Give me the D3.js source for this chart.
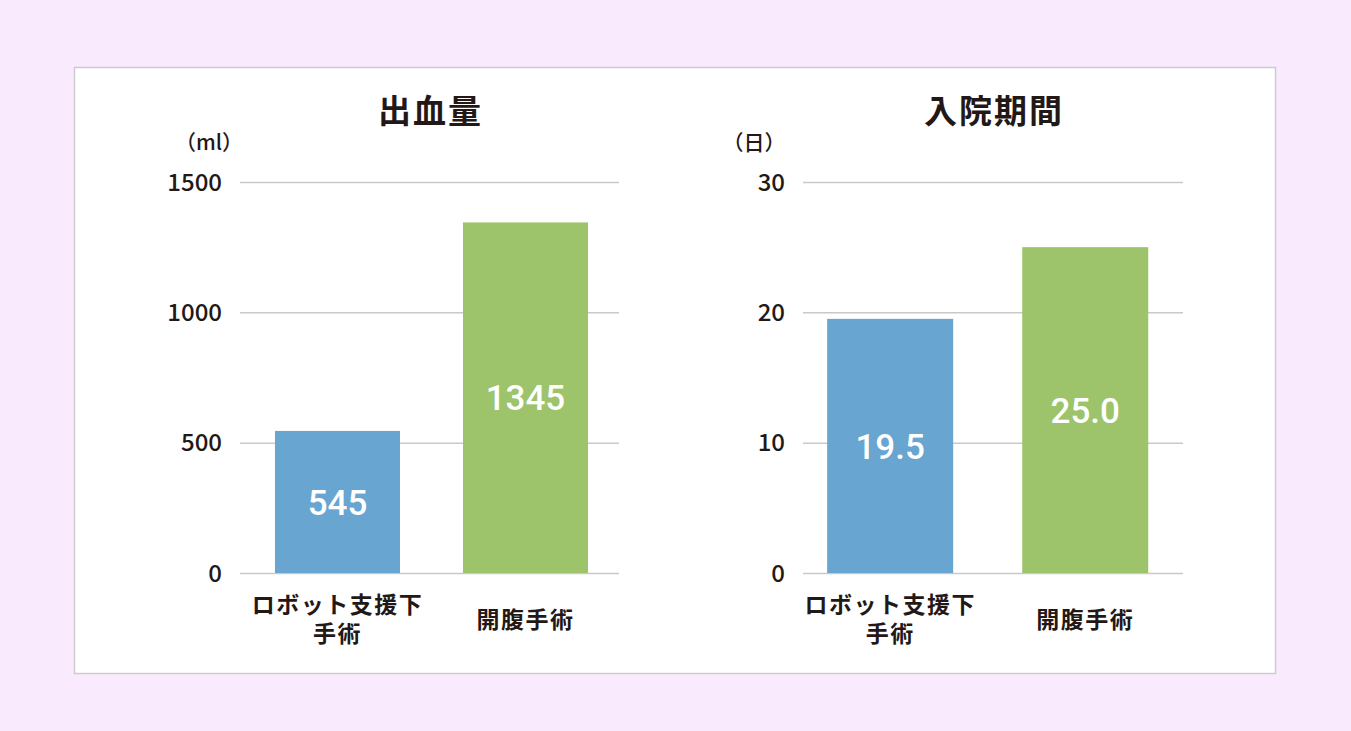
<!DOCTYPE html>
<html>
<head>
<meta charset="utf-8">
<script src="https://cdn.jsdelivr.net/npm/d3@7"></script>
<style>
  html, body { margin: 0; padding: 0; background: #f9ebfd; }
  svg { display: block; }
</style>
</head>
<body>
<div id="chart-area"></div>
<script>
// data
var categories = [["ロボット支援下", "手術"], ["開腹手術"]];
var bloodValues = [545, 1345];
var bloodTicks = [0, 500, 1000, 1500];
var stayValues = [19.5, 25.0];
var stayTicks = [0, 10, 20, 30];
var barColors = ["#69a5d1", "#9dc46b"];

var W = 1351, H = 731;
var textColor = "#231815";
var gridColor = "#c9c9c9";

var svg = d3.select("#chart-area")
    .append("svg")
        .attr("width", W)
        .attr("height", H);

// white panel
svg.append("rect")
    .attr("x", 74.5)
    .attr("y", 67.5)
    .attr("width", 1201)
    .attr("height", 606)
    .attr("fill", "#fff")
    .attr("stroke", "#cccccc")
    .attr("stroke-width", 1.5);

var charts = [
    { title: "出血量", unit: "（ml）", values: bloodValues, ticks: bloodTicks,
      fmt: d3.format("d"), x0: 240, x1: 619, unitX: 209,
      padIn: 0.335, padOut: 0.1755, align: 0.53 },
    { title: "入院期間", unit: "（日）", values: stayValues, ticks: stayTicks,
      fmt: d3.format(".1f"), x0: 803, x1: 1183, unitX: 754,
      padIn: 0.354, padOut: 0.151, align: 0.41 }
];

var yTop = 182, yBottom = 573;

charts.forEach(function(c) {
    var g = svg.append("g");
    var keys = categories.map(function(d) { return d.join(""); });

    var x = d3.scaleBand()
        .domain(keys)
        .range([c.x0, c.x1])
        .paddingInner(c.padIn)
        .paddingOuter(c.padOut)
        .align(c.align);

    var y = d3.scaleLinear()
        .domain([0, d3.max(c.ticks)])
        .range([yBottom, yTop]);

    // gridlines + tick labels
    var yAxis = d3.axisLeft(y)
        .tickValues(c.ticks)
        .tickSize(-(c.x1 - c.x0))
        .tickPadding(18)
        .tickFormat(d3.format("d"));

    var ax = g.append("g")
        .attr("transform", "translate(" + c.x0 + ",0)")
        .call(yAxis);
    ax.select(".domain").remove();
    ax.selectAll(".tick line")
        .attr("stroke", gridColor)
        .attr("stroke-width", 1.5);
    ax.selectAll(".tick text")
        .attr("fill", textColor)
        .attr("font-family", "'Noto Sans CJK JP', sans-serif")
        .attr("font-weight", 500)
        .attr("font-size", "24px")
        .attr("dy", "0.34em");

    // bars
    g.selectAll("rect.bar")
        .data(c.values)
        .enter()
        .append("rect")
            .attr("class", "bar")
            .attr("x", function(d, i) { return x(keys[i]); })
            .attr("y", function(d) { return y(d); })
            .attr("width", x.bandwidth())
            .attr("height", function(d) { return y(0) - y(d); })
            .attr("fill", function(d, i) { return barColors[i]; });

    // value labels
    g.selectAll("text.val")
        .data(c.values)
        .enter()
        .append("text")
            .attr("class", "val")
            .attr("x", function(d, i) { return x(keys[i]) + x.bandwidth() / 2; })
            .attr("y", function(d) { return y(d / 2); })
            .attr("dy", "0.36em")
            .attr("text-anchor", "middle")
            .attr("fill", "#fff")
            .attr("font-family", "Roboto, sans-serif")
            .attr("font-weight", 500)
            .attr("font-size", "35px")
            .text(function(d) { return c.fmt(d); });

    // category labels, one text per line
    categories.forEach(function(lines, i) {
        var cx = x(keys[i]) + x.bandwidth() / 2;
        var startY = lines.length > 1 ? 613 : 628;
        lines.forEach(function(line, j) {
            g.append("text")
                .attr("x", cx)
                .attr("y", startY + j * 29)
                .attr("text-anchor", "middle")
                .attr("fill", textColor)
                .attr("font-family", "'Noto Sans CJK JP', sans-serif")
                .attr("font-weight", 700)
                .attr("font-size", "23px")
                .attr("letter-spacing", "1.5px")
                .text(line);
        });
    });

    // title
    g.append("text")
        .attr("x", (c.x0 + c.x1) / 2 + 1)
        .attr("y", 123)
        .attr("text-anchor", "middle")
        .attr("fill", textColor)
        .attr("font-family", "'Noto Sans CJK JP', sans-serif")
        .attr("font-weight", 700)
        .attr("font-size", "33px")
        .attr("letter-spacing", "2px")
        .text(c.title);

    // unit
    g.append("text")
        .attr("x", c.unitX)
        .attr("y", 150)
        .attr("text-anchor", "middle")
        .attr("fill", textColor)
        .attr("font-family", "'Noto Sans CJK JP', sans-serif")
        .attr("font-weight", 500)
        .attr("font-size", "21px")
        .text(c.unit);
});
</script>
</body>
</html>
